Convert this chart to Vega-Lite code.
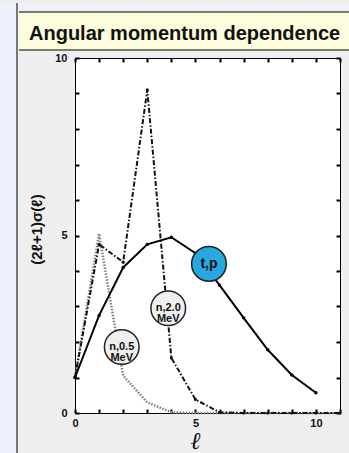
{
  "$schema": "https://vega.github.io/schema/vega-lite/v6.json",
  "background": "#efefef",
  "padding": 0,
  "autosize": {"type": "pad"},
  "config": {"view": {"stroke": null}, "axis": {"grid": false, "domain": false}},
  "datasets": {
    "curves": [
      {"l": 0, "v": 1.0, "s": "n05"}, {"l": 1, "v": 5.05, "s": "n05"}, {"l": 2, "v": 1.05, "s": "n05"}, {"l": 3, "v": 0.3, "s": "n05"},
      {"l": 4, "v": 0.02, "s": "n05"}, {"l": 5, "v": 0, "s": "n05"}, {"l": 6, "v": 0, "s": "n05"}, {"l": 7, "v": 0, "s": "n05"},
      {"l": 8, "v": 0, "s": "n05"}, {"l": 9, "v": 0, "s": "n05"}, {"l": 10, "v": 0, "s": "n05"}, {"l": 11, "v": 0, "s": "n05"},
      {"l": 0, "v": 1.0, "s": "n20"}, {"l": 1, "v": 4.75, "s": "n20"}, {"l": 2, "v": 4.25, "s": "n20"}, {"l": 3, "v": 9.1, "s": "n20"},
      {"l": 4, "v": 1.55, "s": "n20"}, {"l": 5, "v": 0.38, "s": "n20"}, {"l": 6, "v": 0.02, "s": "n20"}, {"l": 7, "v": 0, "s": "n20"},
      {"l": 8, "v": 0, "s": "n20"}, {"l": 9, "v": 0, "s": "n20"}, {"l": 10, "v": 0, "s": "n20"}, {"l": 11, "v": 0, "s": "n20"},
      {"l": 0, "v": 1.0, "s": "tp"}, {"l": 1, "v": 2.75, "s": "tp"}, {"l": 2, "v": 4.1, "s": "tp"}, {"l": 3, "v": 4.75, "s": "tp"},
      {"l": 4, "v": 4.95, "s": "tp"}, {"l": 5, "v": 4.5, "s": "tp"}, {"l": 6, "v": 3.6, "s": "tp"}, {"l": 7, "v": 2.68, "s": "tp"},
      {"l": 8, "v": 1.78, "s": "tp"}, {"l": 9, "v": 1.07, "s": "tp"}, {"l": 10, "v": 0.57, "s": "tp"}
    ],
    "bubbles": [
      {"l": 5.56, "v": 4.2, "kind": "tp", "label": ["t,p"]},
      {"l": 3.87, "v": 2.95, "kind": "n", "label": ["n,2.0", "MeV"]},
      {"l": 1.94, "v": 1.86, "kind": "n", "label": ["n,0.5", "MeV"]}
    ],
    "heading": [{"t": "Angular momentum dependence"}],
    "blank": [{"t": ""}]
  },
  "spacing": 0,
  "hconcat": [
    {
      "width": 17,
      "height": 453,
      "view": {"fill": "#eef0fb", "stroke": null},
      "data": {"name": "blank"},
      "mark": {"type": "rule", "color": "#000", "strokeWidth": 1},
      "encoding": {"x": {"datum": 1, "type": "quantitative", "scale": {"domain": [0, 1]}, "axis": null}}
    },
    {
      "spacing": 0,
      "vconcat": [
        {
          "spacing": 0,
          "vconcat": [
            {
              "width": 332,
              "height": 6,
              "view": {"fill": "#eef0fb", "stroke": null},
              "data": {"name": "blank"},
              "mark": {"type": "text"},
              "encoding": {"text": {"field": "t"}}
            },
            {
              "width": 332,
              "height": 38,
              "view": {"fill": "#fdfcdc", "stroke": null},
              "data": {"name": "heading"},
              "layer": [
                {"mark": {"type": "rule", "color": "#000"}, "encoding": {"y": {"datum": 1, "type": "quantitative", "scale": {"domain": [0, 1]}, "axis": null}}},
                {"mark": {"type": "rule", "color": "#000"}, "encoding": {"y": {"datum": 0, "type": "quantitative", "scale": {"domain": [0, 1]}, "axis": null}}},
                {
                  "mark": {"type": "text", "align": "left", "baseline": "alphabetic", "font": "Liberation Sans", "fontWeight": "bold", "fontSize": 20, "color": "#111", "dx": 10},
                  "encoding": {
                    "text": {"field": "t"},
                    "x": {"datum": 0, "type": "quantitative", "scale": {"domain": [0, 1]}, "axis": null},
                    "y": {"datum": 0.27, "type": "quantitative", "scale": {"domain": [0, 1]}, "axis": null}
                  }
                }
              ]
            }
          ]
        },
        {
          "spacing": 0,
          "hconcat": [
            {
              "width": 10,
              "height": 10,
              "data": {"name": "blank"},
              "mark": {"type": "text"},
              "encoding": {"text": {"field": "t"}}
            },
            {
              "width": 265,
              "height": 355,
              "view": {"fill": "white", "stroke": "#000", "strokeWidth": 1},
              "resolve": {"axis": {"x": "independent", "y": "independent"}},
              "layer": [
                {
                  "data": {"name": "curves"},
                  "transform": [{"filter": "datum.s === 'n05'"}],
                  "mark": {"type": "line", "color": "#808080", "strokeWidth": 2.5, "strokeDash": [1.5, 1.5]},
                  "encoding": {
                    "x": {"field": "l", "type": "quantitative", "scale": {"domain": [0, 11], "nice": false, "zero": false},
                      "axis": {"orient": "bottom", "values": [0, 1, 2, 3, 4, 5, 6, 7, 8, 9, 10, 11],
                        "labelExpr": "datum.value % 5 === 0 ? datum.label : ''",
                        "tickSize": -4, "tickWidth": 2, "tickColor": "#000",
                        "labelFont": "Liberation Sans", "labelFontWeight": "bold", "labelFontSize": 11, "labelColor": "#111",
                        "labelPadding": 8, "labelBaseline": "top", "labelFlush": false, "labelOverlap": false,
                        "title": "ℓ", "titleFont": "DejaVu Serif", "titleFontStyle": "italic", "titleFontWeight": "normal",
                        "titleFontSize": 24, "titleColor": "#111", "titleX": 120, "titleY": 28, "titleBaseline": "middle", "titleAlign": "center"}},
                    "y": {"field": "v", "type": "quantitative", "scale": {"domain": [0, 10], "nice": false},
                      "axis": {"orient": "left", "values": [0, 1, 2, 3, 4, 5, 6, 7, 8, 9, 10],
                        "labelExpr": "datum.value % 5 === 0 ? datum.label : ''",
                        "tickSize": -4, "tickWidth": 2, "tickColor": "#000",
                        "labelFont": "Liberation Sans", "labelFontWeight": "bold", "labelFontSize": 11, "labelColor": "#111",
                        "labelPadding": 12, "labelBaseline": "middle", "labelFlush": false, "labelOverlap": false,
                        "title": "(2ℓ+1)σ(ℓ)", "titleFont": "Liberation Sans", "titleFontWeight": "bold", "titleFontSize": 15,
                        "titleColor": "#111", "titleX": -38.5, "titleY": 171, "titleBaseline": "middle", "titleAlign": "center", "titleAngle": -90}}
                  }
                },
                {
                  "data": {"name": "curves"},
                  "transform": [{"filter": "datum.s === 'n20'"}],
                  "mark": {"type": "line", "color": "#111", "strokeWidth": 2, "strokeDash": [5, 2, 1.5, 2], "point": {"filled": true, "size": 10, "color": "#111"}},
                  "encoding": {
                    "x": {"field": "l", "type": "quantitative", "scale": {"domain": [0, 11], "nice": false, "zero": false},
                      "axis": {"orient": "top", "values": [0, 1, 2, 3, 4, 5, 6, 7, 8, 9, 10, 11], "labels": false,
                        "tickSize": -4, "tickWidth": 2, "tickColor": "#000", "title": null}},
                    "y": {"field": "v", "type": "quantitative", "scale": {"domain": [0, 10], "nice": false},
                      "axis": {"orient": "right", "values": [0, 1, 2, 3, 4, 5, 6, 7, 8, 9, 10], "labels": false,
                        "tickSize": -4, "tickWidth": 2, "tickColor": "#000", "title": null}}
                  }
                },
                {
                  "data": {"name": "curves"},
                  "transform": [{"filter": "datum.s === 'tp'"}],
                  "mark": {"type": "line", "color": "#000", "strokeWidth": 2, "point": {"filled": true, "size": 12, "color": "#000"}},
                  "encoding": {
                    "x": {"field": "l", "type": "quantitative", "scale": {"domain": [0, 11], "nice": false, "zero": false}, "axis": null},
                    "y": {"field": "v", "type": "quantitative", "scale": {"domain": [0, 10], "nice": false}, "axis": null}
                  }
                },
                {
                  "data": {"name": "bubbles"},
                  "mark": {"type": "circle", "opacity": 1, "stroke": "#222", "strokeWidth": 1.5, "size": 1200},
                  "encoding": {
                    "x": {"field": "l", "type": "quantitative", "scale": {"domain": [0, 11], "nice": false, "zero": false}, "axis": null},
                    "y": {"field": "v", "type": "quantitative", "scale": {"domain": [0, 10], "nice": false}, "axis": null},
                    "fill": {"field": "kind", "type": "nominal", "scale": {"domain": ["n", "tp"], "range": ["#efefef", "#29a8e0"]}, "legend": null}
                  }
                },
                {
                  "data": {"name": "bubbles"},
                  "mark": {"type": "text", "font": "Liberation Sans", "fontWeight": "bold", "color": "#111", "baseline": "middle", "align": "center", "lineHeight": 11},
                  "encoding": {
                    "x": {"field": "l", "type": "quantitative", "scale": {"domain": [0, 11], "nice": false, "zero": false}, "axis": null},
                    "y": {"field": "v", "type": "quantitative", "scale": {"domain": [0, 10], "nice": false}, "axis": null},
                    "text": {"field": "label"},
                    "size": {"field": "kind", "type": "nominal", "scale": {"domain": ["n", "tp"], "range": [11, 14]}, "legend": null}
                  }
                }
              ]
            }
          ]
        }
      ]
    }
  ]
}
